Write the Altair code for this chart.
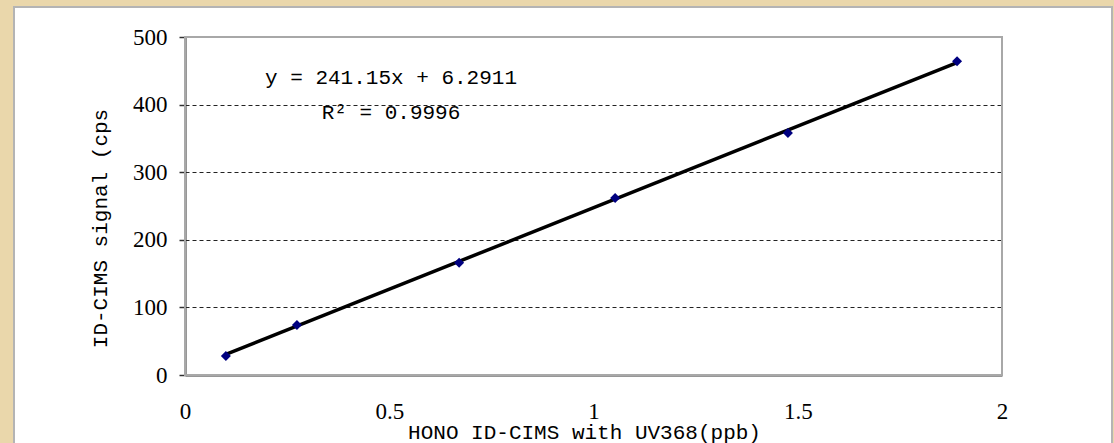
import altair as alt
import pandas as pd

# Calibration data: HONO reference (ppb) vs ID-CIMS signal (cps)
hono_ppb = [0.1, 0.274, 0.671, 1.053, 1.476, 1.89]
signal_cps = [28, 74, 166, 262, 358, 464]

# Linear fit reported on the chart
slope = 241.15
intercept = 6.2911
r_squared = 0.9996

x_ticks = [0, 0.5, 1, 1.5, 2]
y_ticks = [0, 100, 200, 300, 400, 500]

W, H = 817, 338
PAD_L, PAD_T, PAD_R, PAD_B = 185, 37, 112, 68
TAN = "#ead7ab"

points = pd.DataFrame({"x": hono_ppb, "y": signal_cps})
fit = pd.DataFrame({
    "x": [min(hono_ppb), max(hono_ppb)],
    "y": [slope * min(hono_ppb) + intercept, slope * max(hono_ppb) + intercept],
})

serif = "Liberation Serif"
mono = "Liberation Mono"

x_scale = alt.Scale(domain=[0, 2], nice=False)
y_scale = alt.Scale(domain=[0, 500], nice=False)

x_axis = alt.Axis(
    values=x_ticks, format="~g", title="HONO ID-CIMS with UV368(ppb)", grid=False,
    ticks=False, labelFont=serif, labelFontSize=23, labelColor="#000000",
    labelPadding=25, domainColor="#303030", domainWidth=2,
    titleFont=mono, titleFontSize=21, titleFontWeight="normal", titleColor="#000000",
    titleX=399, titleY=57, titleBaseline="middle", labelFlush=False,
)
y_axis = alt.Axis(
    values=y_ticks, title="ID-CIMS signal (cps", grid=True,
    gridColor="#222222", gridDash=[4, 3], gridWidth=1,
    tickSize=6, tickColor="#303030", tickWidth=1.5,
    labelFont=serif, labelFontSize=23, labelColor="#000000", labelPadding=12,
    domainColor="#303030", domainWidth=2,
    titleFont=mono, titleFontSize=21, titleFontWeight="normal", titleColor="#000000",
    titleX=-85, titleY=191, titleBaseline="middle", labelFlush=False,
)

one = pd.DataFrame({"a": [0]})


def strip(x0, x1, y0, y1):
    # Parchment-coloured margin around the white panel
    return alt.Chart(one).mark_rect(color=TAN, clip=False).encode(
        x=alt.value(x0 - PAD_L), x2=alt.value(x1 - PAD_L),
        y=alt.value(y0 - PAD_T), y2=alt.value(y1 - PAD_T),
    )


top_strip = strip(0, 1114, 0, 7)
left_strip = strip(0, 14, 0, 443)
right_strip = strip(1112, 1114, 0, 443)

# Light grey outline of the white panel
panel = alt.Chart(one).mark_rect(
    fill=None, stroke="#b4b4b4", strokeWidth=2, clip=False
).encode(
    x=alt.value(14 - PAD_L), x2=alt.value(1112 - PAD_L),
    y=alt.value(7 - PAD_T), y2=alt.value(443 - PAD_T + 10),
)

# Grey frame on top and right of the plot area
frame = alt.Chart(one).mark_rect(
    fill=None, stroke="#a8a8a8", strokeWidth=2
).encode(x=alt.value(0), x2=alt.value(W), y=alt.value(0), y2=alt.value(H))

line = alt.Chart(fit).mark_line(color="#000000", strokeWidth=3.5).encode(
    x=alt.X("x:Q", scale=x_scale, axis=x_axis),
    y=alt.Y("y:Q", scale=y_scale, axis=y_axis),
)

dots = alt.Chart(points).mark_point(
    shape="diamond", filled=True, color="#000080", size=100, opacity=1
).encode(x=alt.X("x:Q", scale=x_scale), y=alt.Y("y:Q", scale=y_scale))

eq_line = alt.Chart(one).mark_text(
    font=mono, fontSize=21, color="#000000", align="center", baseline="middle"
).encode(
    x=alt.value(391 - PAD_L), y=alt.value(78 - PAD_T),
    text=alt.value(f"y = {slope}x + {intercept}"),
)
eq_r2 = alt.Chart(one).mark_text(
    font=mono, fontSize=21, color="#000000", align="center", baseline="middle"
).encode(
    x=alt.value(391 - PAD_L), y=alt.value(113 - PAD_T),
    text=alt.value(f"R\u00b2 = {r_squared}"),
)

chart = alt.layer(
    top_strip, left_strip, right_strip, panel, frame, line, dots, eq_line, eq_r2
).properties(
    width=W, height=H,
    padding={"left": PAD_L, "top": PAD_T, "right": PAD_R, "bottom": PAD_B},
    autosize=alt.AutoSizeParams(type="none"),
    background="#ffffff",
).configure_view(stroke=None)

chart.save("out.html", embed_options={"renderer": "svg", "actions": False})
